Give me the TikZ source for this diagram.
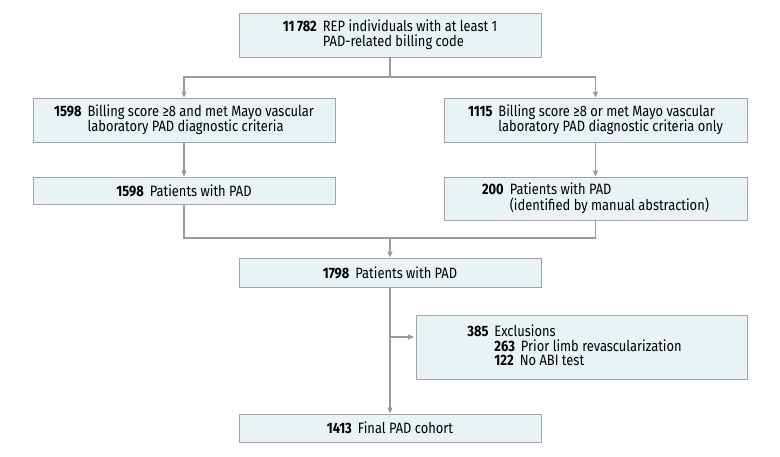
\documentclass[tikz,border=0pt]{standalone}
\usepackage{fontspec}
\setmainfont{Fira Sans}[FakeStretch=0.86]
\usetikzlibrary{arrows.meta}
\definecolor{boxfill}{HTML}{E9F2F5}
\definecolor{boxline}{HTML}{A3A3A3}
\definecolor{connc}{HTML}{9A9A9A}
\newcommand{\bnum}[1]{\textbf{#1}\hspace{6pt}}
\newcommand{\hangtab}[1]{\begin{tabular}[t]{@{}l@{}}#1\end{tabular}}
\begin{document}
\begin{tikzpicture}[x=1pt,y=-1pt,
  box/.style={draw=boxline, fill=boxfill, line width=0.9pt, inner sep=0pt,
    font=\fontsize{15}{15}\selectfont},
  conn/.style={draw=connc, line width=1.1pt},
  arr/.style={conn, -{Triangle[length=6pt,width=5pt]}}]
\useasboundingbox (0,0) rectangle (780,456);
\renewcommand{\arraystretch}{0.83}
\node[box, minimum width=302pt, minimum height=44pt] (top) at (390,35)
  {\bnum{11\,782}\hangtab{REP individuals with at least 1\\PAD-related billing code}};
\node[box, minimum width=302pt, minimum height=44pt] (l2) at (184,120)
  {\bnum{1598}\hangtab{Billing score ≥8 and met Mayo vascular\\laboratory PAD diagnostic criteria}};
\node[box, minimum width=302pt, minimum height=27pt] (l3) at (184,190.5)
  {\bnum{1598}Patients with PAD};
\node[box, minimum width=303pt, minimum height=44pt] (r2) at (595.5,120)
  {\bnum{1115}\hangtab{Billing score ≥8 or met Mayo vascular\\laboratory PAD diagnostic criteria only}};
\node[box, minimum width=303pt, minimum height=43pt] (r3) at (595.5,198.5)
  {\bnum{200}\hangtab{Patients with PAD\\(identified by manual abstraction)}};
\node[box, minimum width=302pt, minimum height=29pt] (mid) at (390,272.5)
  {\bnum{1798}Patients with PAD};
\node[box, minimum width=331pt, minimum height=64pt] (excl) at (581.5,347)
  {\bnum{385}\hangtab{Exclusions\\\bnum{263}Prior limb revascularization\\\bnum{122}No ABI test}\hspace*{14pt}};
\node[box, minimum width=302pt, minimum height=28pt] (fin) at (390,428)
  {\bnum{1413}Final PAD cohort};

\coordinate (s1) at (390,77);
\coordinate (j) at (390,238);
\coordinate (b) at (390,337);
\draw[conn] (top.south) -- (s1);
\draw[arr] (s1) -| (l2.north);
\draw[arr] (s1) -| (r2.north);
\draw[arr] (l2.south) -- (l3.north);
\draw[arr] (r2.south) -- (r3.north);
\draw[conn] (l3.south) |- (j);
\draw[conn] (r3.south) |- (j);
\draw[arr] (j) -- (mid.north);
\draw[arr] (mid.south) -- (fin.north);
\draw[arr, shorten >=1.5pt] (b) -- (excl.west |- b);
\end{tikzpicture}
\end{document}
